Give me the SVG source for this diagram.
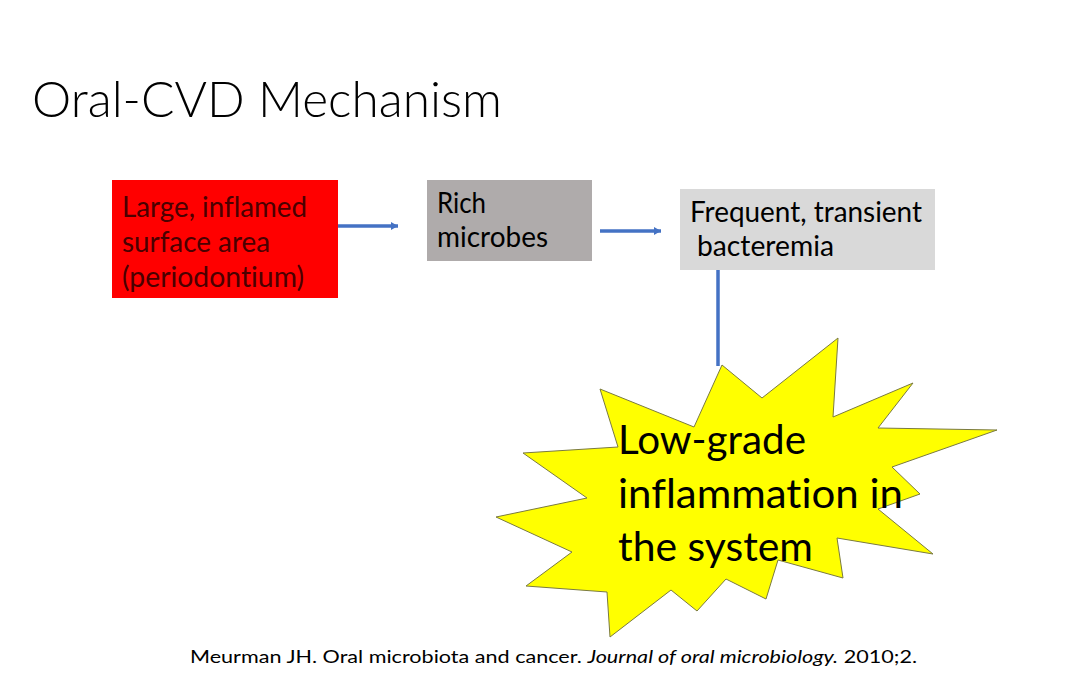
<svg xmlns="http://www.w3.org/2000/svg" width="1080" height="675" viewBox="0 0 1080 675">
<style>
.t{font-family:Lato,"Open Sans","Liberation Sans",sans-serif;font-variant-ligatures:none;}
.box text{font-size:28px;}
.conn{stroke:#4472C4;stroke-width:3.5;fill:none;}
</style>
<defs>
<marker id="ah" markerUnits="userSpaceOnUse" markerWidth="8" markerHeight="10" refX="7" refY="5" orient="auto">
<path d="M0,1 L7,5 L0,9 Z" fill="#4472C4"/>
</marker>
</defs>
<rect width="1080" height="675" fill="#ffffff"/>
<text class="t" x="32" y="117" font-size="50" font-weight="300" fill="#000" textLength="470" lengthAdjust="spacingAndGlyphs">Oral-CVD Mechanism</text>

<g id="connectors">
<line class="conn" x1="338" y1="226" x2="398" y2="226" marker-end="url(#ah)"/>
<line class="conn" x1="600" y1="231" x2="661" y2="231" marker-end="url(#ah)"/>
<line class="conn" x1="718" y1="270" x2="718" y2="366" stroke-width="3"/>
</g>

<g id="node-periodontium" class="box t">
<rect x="112" y="180" width="226" height="118" fill="#FF0000"/>
<text fill="#4a0000">
<tspan x="122" y="217" textLength="185" lengthAdjust="spacingAndGlyphs">Large, inflamed</tspan>
<tspan x="122" y="252" textLength="148" lengthAdjust="spacingAndGlyphs">surface area</tspan>
<tspan x="122" y="287" textLength="182" lengthAdjust="spacingAndGlyphs">(periodontium)</tspan>
</text>
</g>

<g id="node-microbes" class="box t">
<rect x="427" y="180" width="165" height="81" fill="#AFABAB"/>
<text fill="#000">
<tspan x="437" y="213" textLength="49" lengthAdjust="spacingAndGlyphs">Rich</tspan>
<tspan x="437" y="247" textLength="111" lengthAdjust="spacingAndGlyphs">microbes</tspan>
</text>
</g>

<g id="node-bacteremia" class="box t">
<rect x="680" y="189" width="255" height="81" fill="#D9D9D9"/>
<text fill="#000">
<tspan x="690" y="222" textLength="232" lengthAdjust="spacingAndGlyphs">Frequent, transient</tspan>
<tspan x="697" y="256" textLength="137" lengthAdjust="spacingAndGlyphs">bacteremia</tspan>
</text>
</g>

<g id="node-inflammation" class="t">
<polygon fill="#FFFF00" stroke="#7a7a40" stroke-width="1" stroke-linejoin="miter" points="722,365 762,398 838,338 833,417 913,383 878,428 997,430 892,467 920,494 878,509 933,554 837,538 843,578 778,560 766,599 726,579 697,611 671,590 610,637 607,592 526,586 572,552 496,517 587,498 523,453 618,447 600,389 694,427"/>
<text fill="#000" font-size="40">
<tspan x="618" y="454" textLength="188" lengthAdjust="spacingAndGlyphs">Low-grade</tspan>
<tspan x="618" y="508" textLength="285" lengthAdjust="spacingAndGlyphs">inflammation in</tspan>
<tspan x="618" y="561" textLength="195" lengthAdjust="spacingAndGlyphs">the system</tspan>
</text>
</g>

<text class="t" x="190" y="663" font-size="18" fill="#000" textLength="727" lengthAdjust="spacingAndGlyphs">Meurman JH. Oral microbiota and cancer. <tspan font-style="italic">Journal of oral microbiology.</tspan> 2010;2.</text>
</svg>
